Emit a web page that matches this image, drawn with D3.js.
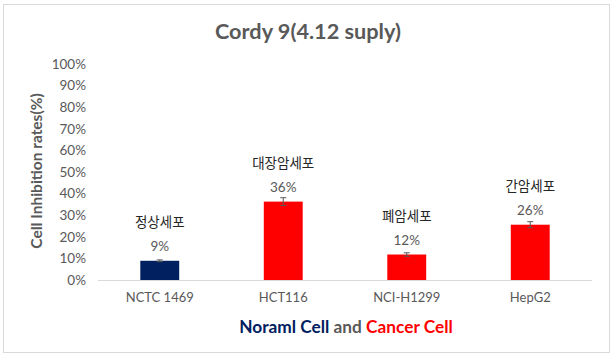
<!DOCTYPE html>
<html><head><meta charset="utf-8">
<script src="https://cdn.jsdelivr.net/npm/d3@7"></script>
<style>
html,body{margin:0;padding:0;background:#fff;}
svg{display:block;font-family:Lato,"Noto Sans CJK KR",sans-serif;}
</style></head>
<body>
<svg id="chart" width="615" height="358"></svg>
<script>
const categories = ["NCTC 1469", "HCT116", "NCI-H1299", "HepG2"];
const values = [0.089, 0.363, 0.118, 0.256];
const errors = [0.004, 0.018, 0.008, 0.014];
const groupLabels = ["정상세포", "대장암세포", "폐암세포", "간암세포"];
const barColors = ["#002060", "#FF0000", "#FF0000", "#FF0000"];
const yTicks = [0, 0.1, 0.2, 0.3, 0.4, 0.5, 0.6, 0.7, 0.8, 0.9, 1.0];
const titleText = "Cordy 9(4.12 suply)";
const yTitle = "Cell Inhibition rates(%)";

const svg = d3.select("#chart");
svg.append("rect").attr("x", 3.5).attr("y", 4.5).attr("width", 606).attr("height", 348)
  .attr("fill", "#fff").attr("stroke", "#D9D9D9").attr("stroke-width", 1);

const x = d3.scaleBand().domain(categories).range([98, 592]).paddingInner(0.685).paddingOuter(0.3425);
const y = d3.scaleLinear().domain([0, 1]).range([280, 64]);

// title
svg.append("text").attr("x", 308).attr("y", 39).attr("text-anchor", "middle")
  .attr("font-size", 21.7).attr("font-weight", "bold").attr("fill", "#595959").text(titleText);

// y axis labels
const yAxis = d3.axisLeft(y).tickValues(yTicks).tickFormat(d3.format(".0%")).tickSize(0).tickPadding(0);
const gy = svg.append("g").attr("transform", "translate(86,0)").call(yAxis);
gy.select(".domain").remove();
gy.selectAll("text").attr("font-size", 13.5).attr("fill", "#595959").attr("font-family", "Lato");

// y title
svg.append("text").attr("transform", "translate(42,171) rotate(-90)").attr("text-anchor", "middle")
  .attr("font-size", 15.5).attr("font-weight", "bold").attr("fill", "#595959").text(yTitle);

// x axis
const xAxis = d3.axisBottom(x).tickSize(0).tickPadding(13);
const gx = svg.append("g").attr("transform", "translate(0,280)").call(xAxis);
gx.select(".domain").attr("stroke", "#D9D9D9").attr("d", "M98,0.5H592");
gx.selectAll("text").attr("font-size", 13).attr("fill", "#595959").attr("font-family", "Lato");

// bars
svg.selectAll(".bar").data(categories).enter().append("rect")
  .attr("x", d => x(d)).attr("width", x.bandwidth())
  .attr("y", (d, i) => y(values[i])).attr("height", (d, i) => y(0) - y(values[i]))
  .attr("fill", (d, i) => barColors[i]);

// error bars
const eb = svg.selectAll(".eb").data(categories).enter().append("g").attr("stroke", "#595959").attr("stroke-width", 1);
eb.append("line").attr("x1", d => x(d) + x.bandwidth() / 2).attr("x2", d => x(d) + x.bandwidth() / 2)
  .attr("y1", (d, i) => y(values[i] + errors[i])).attr("y2", (d, i) => y(values[i] - errors[i]));
eb.append("line").attr("x1", d => x(d) + x.bandwidth() / 2 - 3).attr("x2", d => x(d) + x.bandwidth() / 2 + 3)
  .attr("y1", (d, i) => y(values[i] + errors[i])).attr("y2", (d, i) => y(values[i] + errors[i]));
eb.append("line").attr("x1", d => x(d) + x.bandwidth() / 2 - 3).attr("x2", d => x(d) + x.bandwidth() / 2 + 3)
  .attr("y1", (d, i) => y(values[i] - errors[i])).attr("y2", (d, i) => y(values[i] - errors[i]));

// value labels
svg.selectAll(".vl").data(categories).enter().append("text")
  .attr("x", d => x(d) + x.bandwidth() / 2).attr("y", (d, i) => y(values[i]) - 10)
  .attr("text-anchor", "middle").attr("font-size", 13.5).attr("fill", "#595959")
  .text((d, i) => d3.format(".0%")(values[i]));

// group labels
svg.selectAll(".gl").data(categories).enter().append("text")
  .attr("x", d => x(d) + x.bandwidth() / 2).attr("y", (d, i) => y(values[i]) - 34)
  .attr("text-anchor", "middle").attr("font-size", 13.5).attr("fill", "#262626")
  .attr("font-family", "'Noto Sans CJK KR',sans-serif")
  .text((d, i) => groupLabels[i]);

// x title
const xt = svg.append("text").attr("x", 346).attr("y", 333).attr("text-anchor", "middle")
  .attr("font-size", 17.3).attr("font-weight", "bold");
xt.append("tspan").attr("fill", "#002060").text("Noraml Cell");
xt.append("tspan").attr("fill", "#595959").text(" and ");
xt.append("tspan").attr("fill", "#FF0000").text("Cancer Cell");
</script>
</body></html>
